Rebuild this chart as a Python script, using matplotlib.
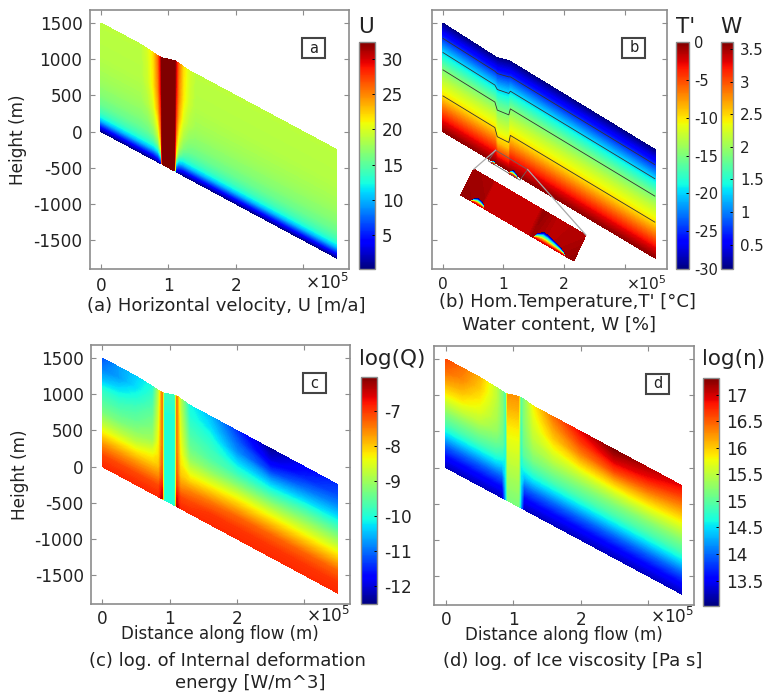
import numpy as np
import matplotlib
matplotlib.use("Agg")
import matplotlib.pyplot as plt
from matplotlib.cm import ScalarMappable
from matplotlib.colors import Normalize
from matplotlib.patches import Polygon, Rectangle

plt.rcParams["axes.unicode_minus"] = False
plt.rcParams["font.family"] = "DejaVu Sans"

W_PX, H_PX = 765, 693

# glacier geometry (x in 1e5 m, height in m)
bed_x = [0, 3.5]
bed_z = [0, -1750]
top_x = [0, 0.6, 0.85, 0.9, 1.1, 1.3, 3.5]
top_z = [1500, 1200, 1045, 1020, 980, 848, -250]

# (a) horizontal velocity, columns along x, rows along relative depth
u_eta = [0, .02, .04, .07, .1, .14, .18, .25, .35, .5, .7, 1]
u_x = [0, .6, .7, .78, .85, .89, .91, 1.09, 1.11, 1.15, 1.22, 1.3, 1.4, 3.5]
u_side = [.3, 2, 4, 7, 10, 12.5, 14, 15.5, 16.7, 17.8, 18.5, 18.8]
u_70 = [.3, 2, 4, 7, 10, 12.5, 14, 15.7, 17, 18.5, 19.5, 20]
u_78 = [.3, 2, 4, 7, 10, 12.5, 14.5, 16.5, 18.2, 20, 21.5, 22]
u_85 = [.5, 3, 5, 8, 11, 14, 16.5, 19, 21, 23.5, 25, 26]
u_89 = [1, 5, 8, 12, 16, 20, 22, 24, 26, 28, 29.5, 30.5]
u_core = [33] * 12
u_cols = [u_side, u_side, u_70, u_78, u_85, u_89, u_core, u_core,
          u_89, u_85, u_78, u_70, u_side, u_side]

# (b) temperature
t_eta = [0, .1, .2, .33, .46, .57, .73, .86, 1]
t_x = [0, .86, .9, 1.09, 1.115, 3.5]
t_side = [-.5, -3, -6, -10, -12.5, -15, -20, -25, -30]
t_core = [-.5, -4.5, -8.8, -11.5, -14, -16.3, -20.8, -25.3, -30]
t_cols = [t_side, t_side, t_core, t_core, t_side, t_side]
t_lines = [-25, -20, -15, -10]

# (b) water content in the inset
w_s = [0, .17, .185, .6, .63, .75, 1]
w_v = [0, 1]
w_low = [3.55, 3.5, 3.4, 3.4, 3.5, 3.42, 3.55]
w_high = [3.5, 3.48, 3.4, 3.4, 3.55, 3.42, 3.45]
blob_f = [0, .3, .5, .7, .85, 1]
blob_w = [3.3, 2.6, 1.8, 1.2, .5, .1]
blob1_s = [.09, .105, .13, .16, .19, .2]
blob1_v = [0, .12, .19, .17, .1, 0]
blob2_s = [.64, .66, .7, .74, .8, .86, .9, .92]
blob2_v = [0, .2, .33, .32, .25, .17, .09, 0]
inset_a = (.514, -520)
inset_b = (2.36, -1431)
inset_c = (2.16, -1790)
inset_d = (.30, -879)
small_a = (.873, -258)
small_b = (1.40, -525)
small_c = (1.273, -672)
small_d = (.751, -405)

# (c), (d) shared stations
q_eta = [0, .1, .2, .3, .4, .5, .6, .7, .8, .9, 1]
q_x = [0, .25, .5, .75, .84, .89, .92, 1.08, 1.11, 1.16, 1.3, 1.6, 2, 2.5, 3, 3.5]

# (c) log of deformation energy
q_0 = [-6.9, -7.1, -7.6, -8.2, -8.8, -9.3, -9.6, -9.9, -10.5, -10.9, -11.2]
q_25 = [-6.9, -7.1, -7.6, -8.2, -8.8, -9.3, -9.6, -9.9, -10.3, -10.7, -10.7]
q_50 = [-6.9, -7.1, -7.6, -8.2, -8.8, -9.2, -9.5, -9.7, -10, -10.3, -10.4]
q_75 = [-6.9, -7.1, -7.6, -8.1, -8.5, -9, -9.2, -9.4, -9.6, -9.8, -10]
q_84 = [-6.9, -7.1, -7.6, -8, -8.2, -8.3, -8.4, -8.5, -8.6, -8.7, -8.8]
q_89 = [-6.4, -6.7, -7.1, -7.3, -7.4, -7.5, -7.5, -7.5, -7.5, -7.5, -7.5]
q_core = [-10, -10, -10, -10, -10, -10, -10, -10, -10, -9.9, -9.8]
q_130 = [-6.9, -7.1, -7.5, -8.1, -8.6, -9.1, -9.4, -9.6, -9.8, -10, -10.1]
q_160 = [-6.9, -7.0, -7.4, -8, -8.6, -9.2, -9.6, -9.8, -10, -10.3, -10.5]
q_200 = [-6.9, -7.0, -7.3, -7.9, -8.5, -9.2, -9.8, -10.3, -10.8, -11.1, -11.4]
q_250 = [-6.9, -7.0, -7.3, -7.9, -8.5, -9.2, -9.9, -10.6, -11.4, -12, -12.4]
q_300 = [-6.9, -7.0, -7.3, -7.9, -8.5, -9.1, -9.7, -10.4, -11, -11.5, -11.8]
q_350 = [-6.9, -7.0, -7.3, -7.9, -8.5, -9.1, -9.7, -10.3, -10.8, -11.2, -11.4]
q_cols = [q_0, q_25, q_50, q_75, q_84, q_89, q_core, q_core, q_89, q_84,
          q_130, q_160, q_200, q_250, q_300, q_350]

# (d) log of viscosity
v_0 = [13.25, 13.55, 13.95, 14.45, 14.9, 15.2, 15.55, 15.9, 16.2, 16.45, 16.6]
v_25 = [13.25, 13.55, 13.95, 14.45, 14.9, 15.2, 15.55, 15.85, 16.1, 16.3, 16.4]
v_50 = [13.25, 13.55, 13.95, 14.45, 14.9, 15.2, 15.5, 15.7, 15.85, 16, 16.1]
v_75 = [13.25, 13.55, 13.95, 14.45, 14.85, 15.1, 15.3, 15.4, 15.45, 15.5, 15.5]
v_84 = [13.25, 13.55, 13.95, 14.4, 14.75, 15, 15.1, 15.15, 15.2, 15.2, 15.2]
v_89 = [14.3, 14.4, 14.5, 14.55, 14.6, 14.65, 14.7, 14.7, 14.75, 14.8, 14.8]
v_core = [15.15, 15.25, 15.35, 15.45, 15.55, 15.65, 15.75, 15.85, 16, 16.15, 16.25]
v_130 = [13.25, 13.55, 13.95, 14.45, 14.85, 15.15, 15.35, 15.5, 15.6, 15.7, 15.8]
v_160 = [13.25, 13.55, 13.95, 14.45, 14.9, 15.2, 15.5, 15.75, 16, 16.2, 16.4]
v_200 = [13.25, 13.55, 13.95, 14.45, 14.9, 15.2, 15.55, 15.95, 16.35, 16.65, 16.9]
v_250 = [13.25, 13.55, 13.95, 14.45, 14.9, 15.2, 15.6, 16.05, 16.6, 17, 17.3]
v_300 = [13.25, 13.55, 13.95, 14.45, 14.9, 15.2, 15.6, 16, 16.45, 16.85, 17.1]
v_350 = [13.25, 13.55, 13.95, 14.45, 14.9, 15.2, 15.55, 15.9, 16.25, 16.6, 16.9]
v_cols = [v_0, v_25, v_50, v_75, v_84, v_89, v_core, v_core, v_89, v_84,
          v_130, v_160, v_200, v_250, v_300, v_350]

# colour ranges and ticks
u_range = (.28, 32.4)
t_range = (-30, 0)
w_range = (.125, 3.61)
q_range = (-12.52, -6.03)
v_range = (13.02, 17.31)
u_ticks = [5, 10, 15, 20, 25, 30]
t_ticks = [0, -5, -10, -15, -20, -25, -30]
w_ticks = [.5, 1, 1.5, 2, 2.5, 3, 3.5]
q_ticks = [-7, -8, -9, -10, -11, -12]
v_ticks = [13.5, 14, 14.5, 15, 15.5, 16, 16.5, 17]
w_labels = ["0.5", "1", "1.5", "2", "2.5", "3", "3.5"]
v_labels = ["13.5", "14", "14.5", "15", "15.5", "16", "16.5", "17"]
x_ticks = [0, 1, 2, 3]
x_labels = ["0", "1", "2", ""]
z_ticks = [-1500, -1000, -500, 0, 500, 1000, 1500]

GRAY = "#8c8c8c"
INK = "#222222"
TICK_FS = 12.2
CAP_FS = 13
fig = plt.figure(figsize=(W_PX / 100, H_PX / 100), dpi=100)


def px_axes(l, t, r, b):
    return fig.add_axes([l / W_PX, 1 - b / H_PX, (r - l) / W_PX, (b - t) / H_PX])


def px_text(x, y, s, size=TICK_FS, ha="center", rotation=0):
    fig.text(x / W_PX, 1 - y / H_PX, s, fontsize=size, ha=ha, va="center", color=INK, rotation=rotation)


def glacier_grid(xs, eta):
    xs = np.array(xs)
    eta = np.array(eta)
    bot = np.interp(xs, bed_x, bed_z)
    top = np.interp(xs, top_x, top_z)
    X, E = np.meshgrid(xs, eta)
    Z = bot[None, :] + E * (top - bot)[None, :]
    return X, Z


def field(ax, xs, eta, cols, rng):
    X, Z = glacier_grid(xs, eta)
    vals = np.column_stack(cols)
    levs = np.linspace(rng[0], rng[1], 220)
    ax.contourf(X, Z, vals, levels=levs, cmap="jet", extend="both")
    return X, Z, vals


def setup(ax, xlim, fs=TICK_FS, xpad=5.5, off_y=-.055):
    ax.set_xlim(*xlim)
    ax.set_ylim(-1900, 1680)
    ax.set_xticks(x_ticks)
    ax.set_xticklabels(x_labels)
    ax.set_yticks(z_ticks)
    ax.tick_params(direction="in", length=3.6, width=.8, color=GRAY, top=True, right=True,
                   labelsize=fs, labelcolor=INK)
    ax.tick_params(axis="x", pad=xpad)
    ax.tick_params(axis="y", pad=5)
    for s in ax.spines.values():
        s.set_color(GRAY)
        s.set_linewidth(1.2)
    # offset text of the x axis, on the line of the tick labels
    ax.text(1.0, off_y, "×10$^5$", transform=ax.transAxes, fontsize=fs, ha="right", va="center", color=INK)


def cbar(l, t, r, b, rng, ticks, labels=None, fs=TICK_FS, pad=5):
    cax = px_axes(l, t, r, b)
    sm = ScalarMappable(Normalize(*rng), "jet")
    cb = fig.colorbar(sm, cax=cax, ticks=ticks)
    if labels:
        cb.set_ticklabels(labels)
    cb.ax.tick_params(direction="in", length=2.5, width=.7, labelsize=fs, pad=pad, labelcolor=INK)
    cb.outline.set_edgecolor(GRAY)
    cb.outline.set_linewidth(1.0)
    return cb


def tag(cx, cy, s):
    fig.add_artist(Rectangle(((cx - 11.5) / W_PX, 1 - (cy + 10) / H_PX), 23 / W_PX, 20 / H_PX,
                             transform=fig.transFigure, fc="white", ec="#444444", lw=1.5))
    px_text(cx, cy, s, size=10.5)


def corner_map(s, v, a, b, c, d):
    s = np.asarray(s)[..., None]
    v = np.asarray(v)[..., None]
    pts = (1 - v) * ((1 - s) * np.array(d) + s * np.array(c)) + v * ((1 - s) * np.array(a) + s * np.array(b))
    return pts[..., 0], pts[..., 1]


def blobs(ax, a, b, c, d):
    for ss, vv in ((blob1_s, blob1_v), (blob2_s, blob2_v)):
        S, F = np.meshgrid(ss, blob_f)
        V = F * np.array(vv)[None, :]
        X, Z = corner_map(S, V, a, b, c, d)
        W = np.tile(np.array(blob_w)[:, None], (1, len(ss)))
        ax.contourf(X, Z, W, levels=np.linspace(w_range[0], w_range[1], 120), cmap="jet", extend="both", zorder=5)


# panel a
ax_a = px_axes(89.5, 10, 349, 269)
field(ax_a, u_x, u_eta, u_cols, u_range)
setup(ax_a, (-.17, 3.68))
cbar(359, 41.7, 374.7, 268.7, u_range, u_ticks)
px_text(358, 27, "U", size=15.5, ha="left")
px_text(18.3, 140, "Height (m)", rotation=90)
px_text(225.8, 305.7, "(a) Horizontal velocity, U [m/a]", size=CAP_FS)
tag(313.3, 48.3, "a")

# panel b
ax_b = px_axes(431.7, 10, 666.7, 269)
X, Z, vals = field(ax_b, t_x, t_eta, t_cols, t_range)
ax_b.contour(X, Z, vals, levels=t_lines, colors="#333333", linewidths=.6, linestyles="solid")
setup(ax_b, (-.18, 3.69), fs=11.2)
ax_b.set_yticklabels([])
blobs(ax_b, small_a, small_b, small_c, small_d)
ax_b.add_patch(Polygon([small_a, small_b, small_c, small_d], closed=True, fill=False, ec="#666666", lw=.6, zorder=6))
ax_b.plot([inset_a[0], small_a[0]], [inset_a[1], small_a[1]], color="#aaaaaa", lw=.9, zorder=6)
ax_b.plot([inset_b[0], small_b[0]], [inset_b[1], small_b[1]], color="#aaaaaa", lw=.9, zorder=6)
S, V = np.meshgrid(w_s, w_v)
IX, IZ = corner_map(S, V, inset_a, inset_b, inset_c, inset_d)
ax_b.contourf(IX, IZ, np.array([w_low, w_high]), levels=np.linspace(w_range[0], w_range[1], 120),
              cmap="jet", extend="both", zorder=4)
blobs(ax_b, inset_a, inset_b, inset_c, inset_d)
cbar(676, 42, 688.7, 269, t_range, t_ticks, fs=10.5, pad=4)
cbar(721, 42, 733.3, 269, w_range, w_ticks, w_labels, fs=10.8, pad=5)
px_text(676, 27, "T'", size=15.5, ha="left")
px_text(720.7, 27, "W", size=15.5, ha="left")
px_text(567.5, 301.7, "(b) Hom.Temperature,T' [°C]", size=CAP_FS)
px_text(559, 325, "Water content, W [%]", size=CAP_FS)
tag(633.8, 47.7, "b")

# panel c
ax_c = px_axes(90.7, 345, 350, 604)
field(ax_c, q_x, q_eta, q_cols, q_range)
setup(ax_c, (-.17, 3.68), xpad=4.6, off_y=-.048)
cbar(360.7, 377, 376.7, 604.3, q_range, q_ticks)
px_text(359, 359, "log(Q)", size=15.5, ha="left")
px_text(20, 475, "Height (m)", rotation=90)
px_text(220, 634, "Distance along flow (m)", size=12)
px_text(227, 661, "(c) log. of Internal deformation", size=CAP_FS)
px_text(250, 683, "energy [W/m^3]", size=CAP_FS)
tag(314, 383.3, "c")

# panel d
ax_d = px_axes(434.3, 346, 694, 605)
field(ax_d, q_x, q_eta, v_cols, v_range)
setup(ax_d, (-.17, 3.68), xpad=4.6, off_y=-.048)
ax_d.set_yticklabels([])
cbar(703.3, 378.3, 719, 606, v_range, v_ticks, v_labels)
px_text(701.7, 359, "log(η)", size=15.5, ha="left")
px_text(564, 635, "Distance along flow (m)", size=12)
px_text(572.5, 661, "(d) log. of Ice viscosity [Pa s]", size=CAP_FS)
tag(657.7, 384, "d")

fig.savefig("out.png", dpi=100)
